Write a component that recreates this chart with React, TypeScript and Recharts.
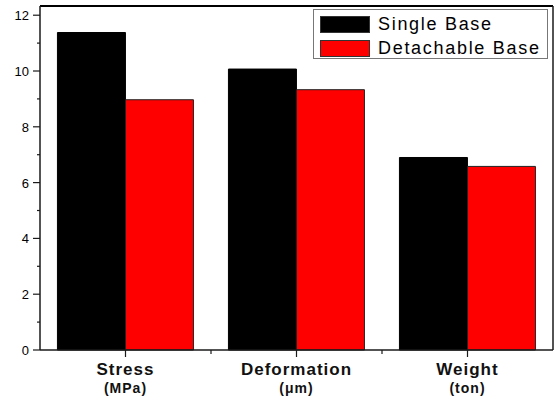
import React from "react";
import { BarChart, Bar, XAxis, YAxis, Legend, ReferenceLine } from "recharts";

const categories = ["Stress", "Deformation", "Weight"];
const units = ["(MPa)", "(\u03bcm)", "(ton)"];
const seriesNames = ["Single Base", "Detachable Base"];
const singleBase = [11.38, 10.07, 6.9];
const detachableBase = [8.97, 9.33, 6.58];
const yTicks = [0, 1, 2, 3, 4, 5, 6, 7, 8, 9, 10, 11, 12];
const yMax = 12.33;

const data = categories.map((name, i) => ({
  name,
  unit: units[i],
  single: singleBase[i],
  detachable: detachableBase[i],
}));

const FONT = '"Liberation Sans", Arial, sans-serif';
const AXIS = "#1a1a1a";

function YTick(props: any) {
  const { x, y, payload } = props;
  const major = payload.value % 2 === 0;
  return (
    <g>
      <line x1={x - (major ? 7 : 3)} x2={x} y1={y} y2={y} stroke={AXIS} strokeWidth={1.2} />
      {major && (
        <text x={x - 11} y={y} dy={5} textAnchor="end" fontFamily={FONT} fontSize={13} fill="#000">
          {payload.value}
        </text>
      )}
    </g>
  );
}

function XTick(props: any) {
  const { x, y, payload, index, width, visibleTicksCount } = props;
  const band = width / (visibleTicksCount || categories.length);
  const row = data[index] || data.find((d) => d.name === payload.value);
  return (
    <g>
      <line x1={x} x2={x} y1={y - 7} y2={y} stroke={AXIS} strokeWidth={1.2} />
      {index < categories.length - 1 && (
        <line x1={x + band / 2} x2={x + band / 2} y1={y - 7} y2={y - 3} stroke={AXIS} strokeWidth={1.2} />
      )}
      <text x={x} y={y} dy={18} textAnchor="middle" fontFamily={FONT} fontWeight="bold" fontSize={17} letterSpacing={1} fill="#111">
        {payload.value}
      </text>
      <text x={x} y={y} dy={36} textAnchor="middle" fontFamily={FONT} fontWeight="bold" fontSize={14} letterSpacing={1} fill="#111">
        {row ? row.unit : ""}
      </text>
    </g>
  );
}

function LegendBox(props: any) {
  const items = [...(props.payload || [])].sort(
    (a: any, b: any) => seriesNames.indexOf(a.value) - seriesNames.indexOf(b.value)
  );
  return (
    <div
      style={{
        border: "1px solid #777",
        width: 233,
        height: 46,
        boxSizing: "content-box",
        paddingTop: 2,
        background: "#fff",
      }}
    >
      {items.map((it: any) => (
        <div key={it.value} style={{ display: "flex", alignItems: "center", height: 24.5 }}>
          <div
            style={{
              marginLeft: 6,
              width: 48,
              height: 15,
              background: it.color,
              border: "1px solid #333",
            }}
          />
          <span style={{ marginLeft: 8, fontFamily: FONT, fontSize: 18, letterSpacing: 1.7, color: "#000" }}>
            {it.value}
          </span>
        </div>
      ))}
    </div>
  );
}

export default function App() {
  return (
    <div style={{ position: "absolute", left: 0, top: 0, background: "#fff" }}>
      <BarChart
        width={554}
        height={399}
        data={data}
        margin={{ top: 6, right: 0, left: 0, bottom: 0 }}
        barCategoryGap="10.2%"
        barGap={0}
      >
        <XAxis
          dataKey="name"
          height={49}
          interval={0}
          tickSize={7}
          tickMargin={0}
          tickLine={false}
          axisLine={{ stroke: AXIS, strokeWidth: 1.5 }}
          tick={<XTick />}
        />
        <YAxis
          width={40}
          domain={[0, yMax]}
          ticks={yTicks}
          interval={0}
          tickSize={0}
          tickMargin={0}
          tickLine={false}
          axisLine={{ stroke: AXIS, strokeWidth: 1.5 }}
          tick={<YTick />}
        />
        {/* right edge of the frame: same scale as the left axis */}
        <YAxis
          yAxisId="right"
          orientation="right"
          width={1}
          domain={[0, yMax]}
          ticks={yTicks}
          tick={false}
          tickLine={false}
          axisLine={{ stroke: AXIS, strokeWidth: 1.5 }}
        />
        {/* top edge of the frame */}
        <ReferenceLine y={yMax} stroke="#000" strokeWidth={2} ifOverflow="visible" />
        <Legend
          layout="vertical"
          align="center"
          verticalAlign="middle"
          wrapperStyle={{ top: 9, left: 313, width: 235 }}
          content={<LegendBox />}
        />
        <Bar dataKey="single" name="Single Base" fill="#000000" stroke="#000" strokeWidth={1} isAnimationActive={false} />
        <Bar
          dataKey="detachable"
          yAxisId="right"
          name="Detachable Base"
          fill="#ff0000"
          stroke="#222"
          strokeWidth={1}
          isAnimationActive={false}
        />
      </BarChart>
    </div>
  );
}
